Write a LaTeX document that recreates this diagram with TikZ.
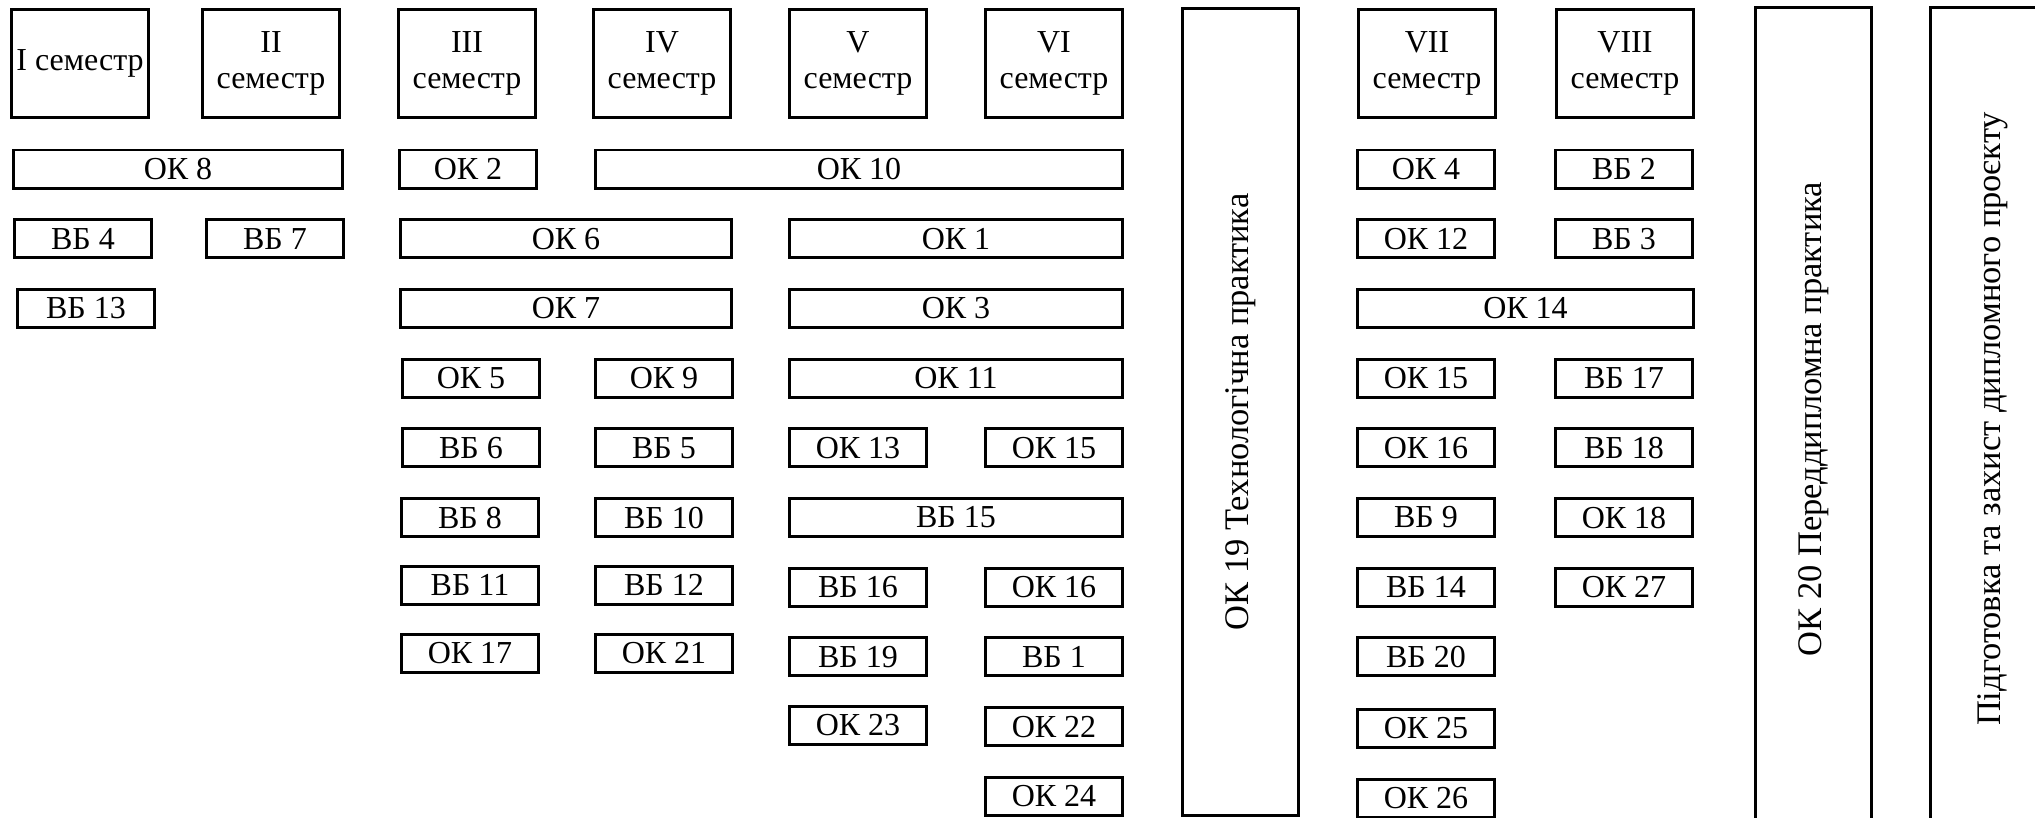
\documentclass[tikz,border=0pt]{standalone}
\usepackage{fontspec}
\setmainfont{Liberation Serif}
\usetikzlibrary{positioning}

\begin{document}
\begin{tikzpicture}
  [line width=0.85pt,x=0.01cm,y=-0.01cm,
   discNode/.style={draw,minimum width=1.36cm,minimum height=0.38cm,inner sep=0pt,
                    font=\fontsize{9.1}{10.2}\selectfont},
   semNode/.style={discNode,minimum height=1.07cm,align=center},
   wideN/.style={discNode,minimum width=#1},
   practN/.style={draw,rotate=90,inner sep=0pt,minimum height=1.15cm,
                  font=\fontsize{9.8}{11}\selectfont},
  ]

 \clip (0,0) rectangle (2035,817);

 % semesters
 \node[semNode] (sem1) at (80,63.5)   {I семестр};
 \node[semNode] (sem2) at (271,63.5)  {II\\семестр};
 \node[semNode] (sem3) at (467,63.5)  {III\\семестр};
 \node[semNode] (sem4) at (662,63.5)  {IV\\семестр};
 \node[semNode] (sem5) at (858,63.5)  {V\\семестр};
 \node[semNode] (sem6) at (1054,63.5) {VI\\семестр};
 \node[semNode] (sem7) at (1427,63.5) {VII\\семестр};
 \node[semNode] (sem8) at (1625,63.5) {VIII\\семестр};

 % I -- II
 \node[wideN=3.28cm] (ok8) at (178,169) {ОК 8};
 \node[discNode] (bb4)  at (83,238.7)  {ВБ 4};
 \node[discNode] (bb7)  at (275,238.7) {ВБ 7};
 \node[discNode] (bb13) at (86,308.4)  {ВБ 13};

 % III -- IV
 \node[discNode] (ok2) at (468,169) {ОК 2};
 \node[wideN=3.31cm] (ok6) at (566,238.7) {ОК 6};
 \node[wideN=3.31cm] (ok7) at (566,308.4) {ОК 7};
 \node[discNode] (ok5)  at (471,378.1) {ОК 5};
 \node[discNode] (bb6)  at (471,447.8) {ВБ 6};
 \node[discNode] (bb8)  at (470,517.5) {ВБ 8};
 \node[discNode] (bb11) at (470,585.2) {ВБ 11};
 \node[discNode] (ok17) at (470,653.5) {ОК 17};
 \node[discNode] (ok9)  at (664,378.1) {ОК 9};
 \node[discNode] (bb5)  at (664,447.8) {ВБ 5};
 \node[discNode] (bb10) at (664,517.5) {ВБ 10};
 \node[discNode] (bb12) at (664,585.2) {ВБ 12};
 \node[discNode] (ok21) at (664,653.5) {ОК 21};

 % V -- VI
 \node[wideN=5.27cm] (ok10) at (859,169)  {ОК 10};
 \node[wideN=3.32cm] (ok1)  at (956,238.7) {ОК 1};
 \node[wideN=3.32cm] (ok3)  at (956,308.4) {ОК 3};
 \node[wideN=3.32cm] (ok11) at (956,378.1) {ОК 11};
 \node[discNode] (ok13)  at (858,447.8) {ОК 13};
 \node[discNode] (ok15a) at (1054,447.8) {ОК 15};
 \node[wideN=3.32cm] (bb15) at (956,517.5) {ВБ 15};
 \node[discNode] (bb16)  at (858,587.2) {ВБ 16};
 \node[discNode] (ok16a) at (1054,587.2) {ОК 16};
 \node[discNode] (bb19)  at (858,656.9) {ВБ 19};
 \node[discNode] (bb1)   at (1054,656.9) {ВБ 1};
 \node[discNode] (ok23)  at (858,725)   {ОК 23};
 \node[discNode] (ok22)  at (1054,726.6) {ОК 22};
 \node[discNode] (ok24)  at (1054,796)  {ОК 24};

 % practice
 \node[practN,minimum width=8.06cm] (ok19) at (1240.5,412) {ОК 19 Технологічна практика};

 % VII -- VIII
 \node[discNode] (ok4)   at (1426,169)   {ОК 4};
 \node[discNode] (ok12)  at (1426,238.7) {ОК 12};
 \node[wideN=3.35cm] (ok14) at (1525.5,308.4) {ОК 14};
 \node[discNode] (ok15b) at (1426,378.1) {ОК 15};
 \node[discNode] (ok16b) at (1426,447.8) {ОК 16};
 \node[discNode] (bb9)   at (1426,517.5) {ВБ 9};
 \node[discNode] (bb14)  at (1426,587.2) {ВБ 14};
 \node[discNode] (bb20)  at (1426,656.9) {ВБ 20};
 \node[discNode] (ok25)  at (1426,728.5) {ОК 25};
 \node[discNode] (ok26)  at (1426,798.5) {ОК 26};
 \node[discNode] (bb2)   at (1624,169)   {ВБ 2};
 \node[discNode] (bb3)   at (1624,238.7) {ВБ 3};
 \node[discNode] (bb17)  at (1624,378.1) {ВБ 17};
 \node[discNode] (bb18)  at (1624,447.8) {ВБ 18};
 \node[discNode] (ok18)  at (1624,517.5) {ОК 18};
 \node[discNode] (ok27)  at (1624,587.2) {ОК 27};

 \node[practN,minimum width=8.22cm] (ok20) at (1813.5,419) {ОК 20 Переддипломна практика};
 \node[practN,minimum width=8.22cm,minimum height=1.24cm] (dipl) at (1993,419)
   {Підготовка та захист дипломного проєкту};

\end{tikzpicture}
\end{document}
